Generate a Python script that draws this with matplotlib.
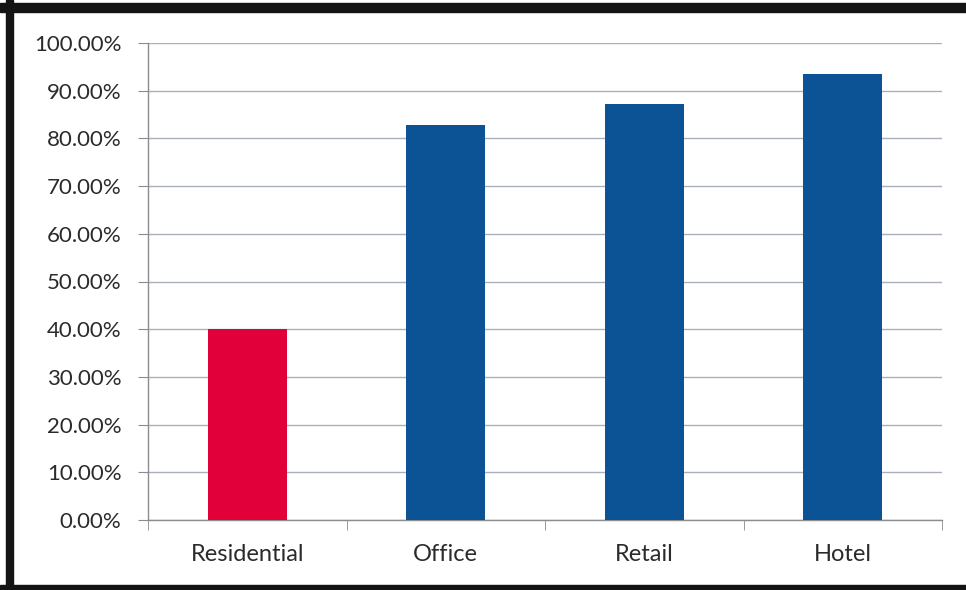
import matplotlib.pyplot as plt
from matplotlib.patches import Rectangle
from matplotlib.ticker import PercentFormatter, FixedLocator
import numpy as np

property_types = ["Residential", "Office", "Retail", "Hotel"]
share_pct = [40.0, 82.9, 87.2, 93.6]
bar_colors = ["#E2003A", "#0B5394", "#0B5394", "#0B5394"]

plt.rcParams["font.family"] = ["Lato", "DejaVu Sans"]

fig = plt.figure(figsize=(9.66, 5.90), dpi=100)
ax = fig.add_axes([148/966, 1 - 520/590, (942 - 148)/966, (520 - 43)/590])

x = np.arange(len(property_types))
ax.bar(x, share_pct, width=0.4, color=bar_colors, zorder=3)

ax.set_xlim(-0.5, len(property_types) - 0.5)
ax.set_ylim(0, 100)
ax.set_yticks(np.arange(0, 101, 10))
ax.yaxis.set_major_formatter(PercentFormatter(100, decimals=2))
ax.grid(axis="y", color="#A9AFBC", linewidth=1.0, zorder=0)

# category names centred, tick marks on the category boundaries
ax.set_xticks(x)
ax.set_xticklabels(property_types)
ax.tick_params(axis="x", which="major", length=0, pad=17, labelsize=17, labelcolor="#2B2B2B")
ax.xaxis.set_minor_locator(FixedLocator(np.arange(-0.5, len(property_types), 1.0)))
ax.tick_params(axis="x", which="minor", length=7, color="#8C8C8C", direction="out")
ax.tick_params(axis="y", length=7, color="#8C8C8C", labelsize=16, labelcolor="#2B2B2B", pad=12)

for side in ("top", "right"):
    ax.spines[side].set_visible(False)
for side in ("left", "bottom"):
    ax.spines[side].set_color("#8C8C8C")
    ax.spines[side].set_linewidth(1.0)

# dark frame around the chart area
frame = dict(transform=fig.transFigure, color="#141414", zorder=10, clip_on=False)
fig.patches.append(Rectangle((6/966, 0), 7/966, 1, **frame))
fig.patches.append(Rectangle((0, 1 - 12/590), 1, 9/590, **frame))
fig.patches.append(Rectangle((0, 0), 1, 5/590, **frame))

fig.savefig("out.png", dpi=100)
